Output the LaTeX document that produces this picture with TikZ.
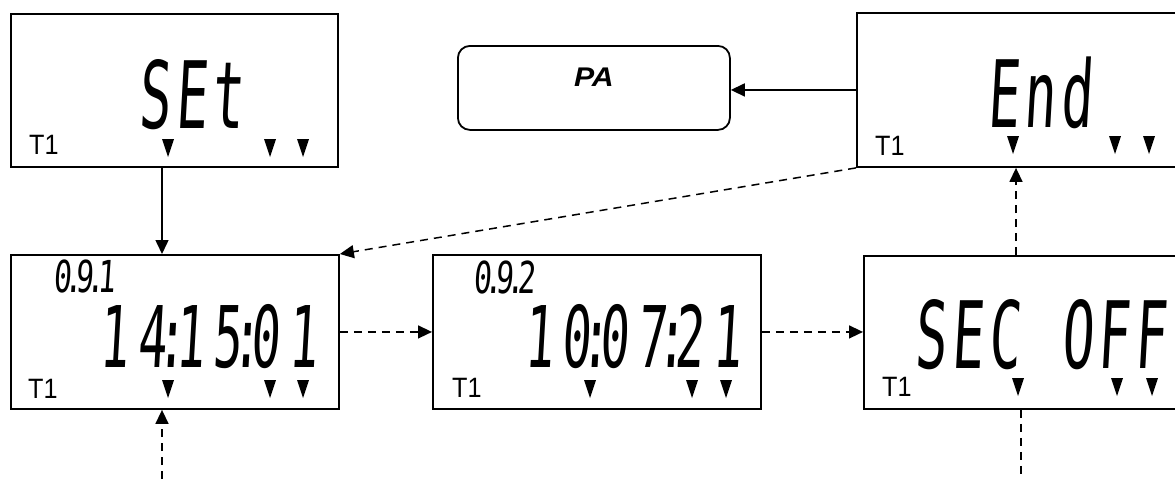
\documentclass[tikz,border=0pt]{standalone}
\usepackage{fontspec}
\usepackage{graphicx}
\setmainfont{Liberation Sans}
\newfontfamily\lcdfont{DejaVu Sans Mono}[FakeSlant=0.1]
\usetikzlibrary{arrows.meta,calc}
\newcommand\lcd[3]{\scalebox{#2}[1]{\fontsize{#1}{#1}\selectfont\lcdfont #3}}
% spacing inside LCD strings
\newcommand\lk{\kern.175em}
\newcommand\lkl{\kern.087em}
\newcommand\lcdgap{\kern-.2135em}
\newcommand\lcddot{\kern-.2345em}
\newcommand\indtri[2]{\fill (#1-6,#2) -- (#1+6,#2) -- (#1,#2+18) -- cycle;}
\newcommand\tone{\scalebox{0.9}[1]{T1}}
\begin{document}
\begin{tikzpicture}[x=1pt,y=-1pt,
  lcdbox/.style={draw,line width=1.9pt,anchor=north west,inner sep=0pt,minimum width=327pt,minimum height=153pt},
  conn/.style={line width=1.5pt,-{Triangle[length=14pt,width=13pt]}},
  dconn/.style={conn,dash pattern=on 8pt off 6pt},
  dline/.style={line width=1.5pt,dash pattern=on 8pt off 6pt},
  tlabel/.style={anchor=base west,inner sep=0pt,font=\fontsize{28}{28}\selectfont},
  lcdtxt/.style={anchor=base,inner sep=0pt}]
\useasboundingbox (0,0) rectangle (1175,479);
\clip (0,0) rectangle (1175,479);
\fill[white] (0,0) rectangle (1175,479);

% boxes
\node[lcdbox] (set) at (10,13) {};
\node[lcdbox,minimum width=328pt,minimum height=154pt] (b1) at (10,254) {};
\node[lcdbox,minimum width=328pt,minimum height=154pt] (b2) at (432,254) {};
\node[lcdbox,minimum width=327pt,minimum height=153pt] (sec) at (863,255) {};
\node[lcdbox,minimum width=327pt,minimum height=154pt] (endb) at (856,12) {};
\node[draw,line width=1.8pt,rounded corners=12pt,minimum width=272pt,minimum height=84pt,
      anchor=north west,inner sep=0pt,text depth=21pt,
      font=\fontsize{27}{27}\selectfont\bfseries\itshape] (pa) at (457,45) {\scalebox{1.12}[1]{PA}};

% LCD texts
\node[lcdtxt] (tset) at (191,128) {\lcd{93}{0.57}{S\lkl E\lkl t}};
\node[lcdtxt] (tend) at (1039.5,127) {\lcd{93}{0.57}{E\lkl n\lkl d}};
\node[lcdtxt] (tsec) at (1040.5,368) {\lcd{93}{0.57}{S\lkl E\lkl C\lkl{} \lkl{}O\lkl F\lkl F}};
\node[lcdtxt] (tonetime) at (208.5,367) {\lcd{85}{0.57}{1\lk 4\lcdgap:\lcdgap 1\lk 5\lcdgap:\lcdgap 0\lk 1}};
\node[lcdtxt] (ttwotime) at (633,367) {\lcd{85}{0.57}{1\lk 0\lcdgap:\lcdgap 0\lk 7\lcdgap:\lcdgap 2\lk 1}};
\node[lcdtxt] (cone) at (84,292) {\lcd{44}{0.68}{0\lcddot.\lcddot 9\lcddot.\lcddot 1}};
\node[lcdtxt] (ctwo) at (504,293) {\lcd{44}{0.68}{0\lcddot.\lcddot 9\lcddot.\lcddot 2}};

% T1 labels
\node[tlabel] (lset) at (29,154) {\tone};
\node[tlabel] (lone) at (28,398) {\tone};
\node[tlabel] (ltwo) at (452,397) {\tone};
\node[tlabel] (lsec) at (882,396) {\tone};
\node[tlabel] (lend) at (875,155) {\tone};

% indicator triangles
\indtri{168}{139}\indtri{270}{139}\indtri{303}{139}
\indtri{168}{380}\indtri{270}{380}\indtri{303}{380}
\indtri{590}{380}\indtri{692}{380}\indtri{726}{380}
\indtri{1018}{378}\indtri{1117}{378}\indtri{1152}{378}
\indtri{1013}{136}\indtri{1115}{136}\indtri{1149}{136}

% connectors
\coordinate (xa) at (162,0);
\coordinate (xb) at (1016,0);
\coordinate (xc) at (1021,0);
\coordinate (bota) at (162,479);
\coordinate (botb) at (1021,479);
\draw[conn] (xa |- set.south) -- (xa |- b1.north);
\draw[dconn] (bota) -- (xa |- b1.south);
\draw[dconn] (b1.east) -- (b2.west);
\draw[dconn] (b2.east) -- (b2.east -| sec.west);
\draw[dconn] (xb |- sec.north) -- (xb |- endb.south);
\draw[dline] (xc |- sec.south) -- (botb);
\draw[conn] (endb.west) -- (endb.west -| pa.east);
\draw[dconn] (endb.south west) -- (b1.north east);
\end{tikzpicture}
\end{document}
